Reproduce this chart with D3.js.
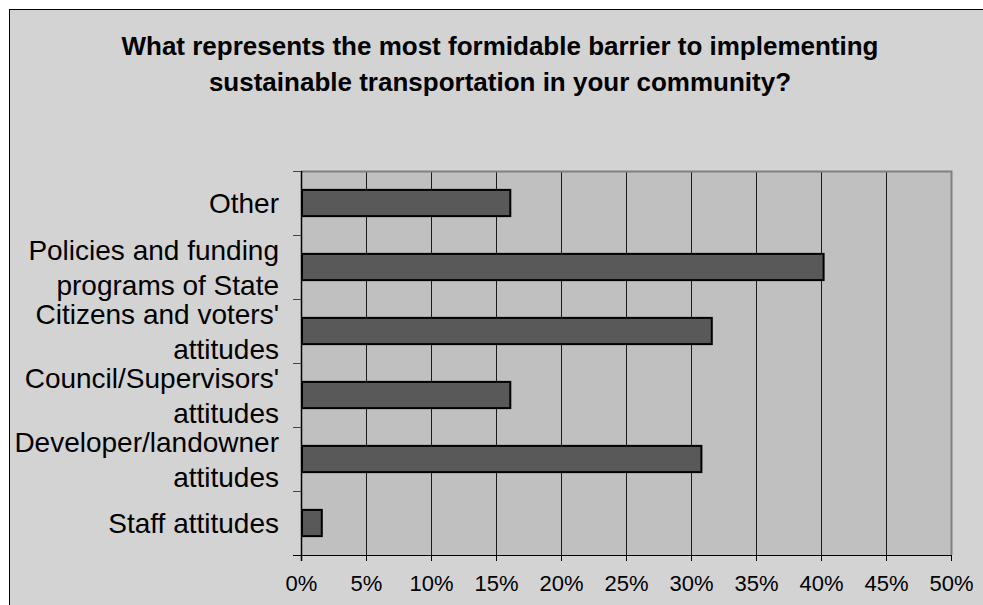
<!DOCTYPE html>
<html>
<head>
<meta charset="utf-8">
<script src="https://cdn.jsdelivr.net/npm/d3@7/dist/d3.min.js"></script>
<style>
  html, body { margin: 0; padding: 0; background: #ffffff; }
  svg { display: block; font-family: "Liberation Sans", Arial, sans-serif; }
</style>
</head>
<body>
<svg id="chart" width="983" height="605"></svg>
<script>
// Survey responses, top to bottom
const categories = [
  ["Other"],
  ["Policies and funding", "programs of State"],
  ["Citizens and voters'", "attitudes"],
  ["Council/Supervisors'", "attitudes"],
  ["Developer/landowner", "attitudes"],
  ["Staff attitudes"]
];
const values = [16.1, 40.2, 31.6, 16.1, 30.8, 1.6];
const tickValues = [0, 5, 10, 15, 20, 25, 30, 35, 40, 45, 50];
const titleLines = [
  "What represents the most formidable barrier to implementing",
  "sustainable transportation in your community?"
];

const svg = d3.select("#chart");
const W = 983, H = 605;
const plot = { left: 301, top: 171, right: 951, bottom: 555 };

// chart background with frame
svg.append("rect")
  .attr("x", 9.5).attr("y", 9.5)
  .attr("width", W + 20).attr("height", H + 20)
  .attr("fill", "#d3d3d3").attr("stroke", "#000").attr("stroke-width", 1);

// title
svg.append("g").selectAll("text").data(titleLines).join("text")
  .attr("x", 500).attr("y", (d, i) => 55 + i * 36)
  .attr("text-anchor", "middle")
  .attr("font-size", 26).attr("font-weight", "bold")
  .attr("fill", "#000")
  .text(d => d);

const x = d3.scaleLinear().domain([0, 50]).range([plot.left, plot.right]);
const keys = categories.map(c => c.join(" "));
const y = d3.scaleBand().domain(keys).range([plot.top, plot.bottom]).paddingInner(0.59).paddingOuter(0.295);
const band = d3.scaleBand().domain(keys).range([plot.top, plot.bottom]);

// plot area
svg.append("rect")
  .attr("x", plot.left).attr("y", plot.top)
  .attr("width", plot.right - plot.left).attr("height", plot.bottom - plot.top)
  .attr("fill", "#c0c0c0");

// vertical gridlines
svg.append("g").selectAll("line").data(tickValues.slice(1, -1)).join("line")
  .attr("x1", d => Math.round(x(d)) + 0.5).attr("x2", d => Math.round(x(d)) + 0.5)
  .attr("y1", plot.top).attr("y2", plot.bottom)
  .attr("stroke", "#1a1a1a").attr("stroke-width", 1);

// top and right border of the plot area
svg.append("path")
  .attr("d", `M${plot.left},${plot.top + 0.5}H${plot.right + 0.5}V${plot.bottom}`)
  .attr("fill", "none").attr("stroke", "#808080").attr("stroke-width", 2);

// bars
svg.append("g").selectAll("rect").data(values).join("rect")
  .attr("x", x(0) + 1)
  .attr("y", (d, i) => y(keys[i]))
  .attr("width", d => x(d) - x(0) - 1)
  .attr("height", y.bandwidth())
  .attr("fill", "#595959").attr("stroke", "#000").attr("stroke-width", 2);

// x axis
const xAxis = d3.axisBottom(x).tickValues(tickValues).tickSize(6).tickPadding(14)
  .tickFormat(d => d + "%");
const gx = svg.append("g").attr("transform", `translate(0,${plot.bottom})`).call(xAxis);
gx.select(".domain").attr("d", `M${plot.left - 8},0.5H${plot.right}`).attr("stroke", "#000");
gx.selectAll(".tick line").attr("stroke", "#000");
gx.selectAll(".tick text").attr("font-size", 22).attr("fill", "#000")
  .attr("font-family", "Liberation Sans, Arial, sans-serif");

// y axis: ticks at band boundaries
const boundaries = keys.slice(1).map(k => band(k));
svg.append("line")
  .attr("x1", plot.left + 0.5).attr("x2", plot.left + 0.5)
  .attr("y1", plot.top).attr("y2", plot.bottom + 6)
  .attr("stroke", "#000").attr("stroke-width", 1.5);
svg.append("g").selectAll("line").data([plot.top, ...boundaries]).join("line")
  .attr("x1", plot.left - 8).attr("x2", plot.left)
  .attr("y1", d => Math.round(d) + 0.5).attr("y2", d => Math.round(d) + 0.5)
  .attr("stroke", "#444").attr("stroke-width", 1);

// category labels
const lineGap = 35;
const labels = svg.append("g").selectAll("text").data(categories).join("text")
  .attr("text-anchor", "end")
  .attr("font-size", 28).attr("fill", "#000");
labels.each(function(lines, i) {
  const cy = band(keys[i]) + band.bandwidth() / 2;
  const y0 = cy - (lines.length - 1) * lineGap / 2 + 10;
  d3.select(this).selectAll("tspan").data(lines).join("tspan")
    .attr("x", 279).attr("y", (d, j) => y0 + j * lineGap)
    .text(d => d);
});
</script>
</body>
</html>
